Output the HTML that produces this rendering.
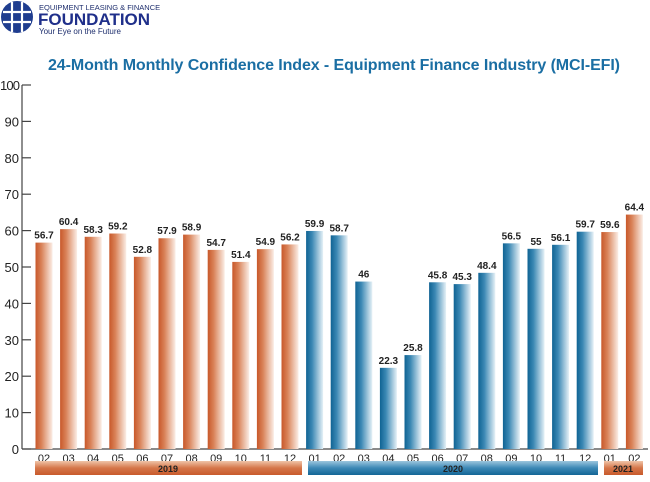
<!DOCTYPE html>
<html><head><style>
html,body{margin:0;padding:0;background:#fff;}
svg{display:block;font-family:"Liberation Sans",sans-serif;}
</style></head><body>
<svg width="650" height="482" viewBox="0 0 650 482" xmlns="http://www.w3.org/2000/svg">
<defs>
<linearGradient id="o" x1="0" x2="1"><stop offset="0" stop-color="#c8582a"/><stop offset="0.35" stop-color="#d98258"/><stop offset="1" stop-color="#fbeee6"/></linearGradient>
<linearGradient id="b" x1="0" x2="1"><stop offset="0" stop-color="#0f6393"/><stop offset="0.35" stop-color="#3b88b4"/><stop offset="1" stop-color="#e6f1f7"/></linearGradient>
<linearGradient id="ob" x1="0" y1="0" x2="0" y2="1"><stop offset="0" stop-color="#f0c4a8"/><stop offset="0.5" stop-color="#d5764a"/><stop offset="1" stop-color="#c85a2c"/></linearGradient>
<linearGradient id="bb" x1="0" y1="0" x2="0" y2="1"><stop offset="0" stop-color="#9cc6de"/><stop offset="0.5" stop-color="#3c88b5"/><stop offset="1" stop-color="#146696"/></linearGradient>
</defs>
<circle cx="17" cy="17" r="16" fill="#1f3d8f"/>
<path d="M3 12H31M3 22H31M12 2V32M22 2V32" stroke="#fff" stroke-width="2.2"/>
<text x="39" y="10" font-size="7.5" fill="#1f2f6e">EQUIPMENT LEASING &amp; FINANCE</text>
<text x="38" y="25" font-size="17" font-weight="bold" fill="#1f2f8a">FOUNDATION</text>
<text x="39" y="34" font-size="8" fill="#1f2f6e">Your Eye on the Future</text>
<text x="334" y="70" font-size="16" font-weight="bold" fill="#1a6ea3" text-anchor="middle" textLength="572">24-Month Monthly Confidence Index - Equipment Finance Industry (MCI-EFI)</text>
<g stroke="#444" stroke-width="1.2">
<line x1="22" y1="85" x2="22" y2="449"/>
<line x1="22" y1="449" x2="648" y2="449"/>
</g>
<g id="ax" font-size="13" fill="#222" text-anchor="end"></g>
<g id="bars"></g>
<rect x="35" y="461" width="267" height="14" fill="url(#ob)"/>
<rect x="308" y="461" width="290" height="14" fill="url(#bb)"/>
<rect x="604" y="461" width="39" height="14" fill="url(#ob)"/>
<g font-size="9" font-weight="bold" fill="#222" text-anchor="middle">
<text x="168" y="472">2019</text><text x="453" y="472">2020</text><text x="623" y="472">2021</text>
</g>
<script>
var ns="http://www.w3.org/2000/svg";
function el(t,a,p,txt){var e=document.createElementNS(ns,t);for(var k in a)e.setAttribute(k,a[k]);if(txt!=null)e.textContent=txt;p.appendChild(e);return e;}
var ax=document.getElementById('ax');
for(var v=0;v<=100;v+=10){var y=449-v*3.64;
el('line',{x1:22,y1:y,x2:31,y2:y,stroke:'#444','stroke-width':1.2},ax);
var a={x:19,y:y+5};if(v==100){a.textLength=20;a.x=20;}
el('text',a,ax,String(v));}
var vals=[56.7,60.4,58.3,59.2,52.8,57.9,58.9,54.7,51.4,54.9,56.2,59.9,58.7,46,22.3,25.8,45.8,45.3,48.4,56.5,55,56.1,59.7,59.6,64.4];
var labs=['02','03','04','05','06','07','08','09','10','11','12','01','02','03','04','05','06','07','08','09','10','11','12','01','02'];
var g=document.getElementById('bars');
for(var i=0;i<25;i++){var cx=44+i*24.6,h=vals[i]*3.64,y=449-h;var blue=i>=11&&i<=22;
el('rect',{x:cx-8.5,y:y,width:17,height:h,fill:blue?'url(#b)':'url(#o)'},g);
el('text',{x:cx,y:y-4,'font-size':10,'font-weight':'bold',fill:'#222','text-anchor':'middle'},g,String(vals[i]));
el('text',{x:cx,y:462,'font-size':11,fill:'#222','text-anchor':'middle'},g,labs[i]);}
</script>
</svg>
</body></html>
